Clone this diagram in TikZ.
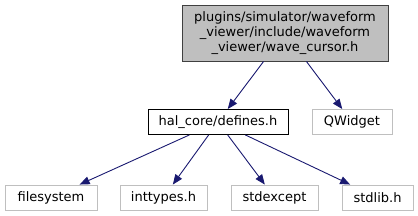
\documentclass[tikz,border=0pt]{standalone}
\usepackage{fontspec}
\setmainfont{DejaVu Sans}
\usetikzlibrary{arrows.meta}
\definecolor{edgeblue}{HTML}{191970}
\definecolor{boxgray}{HTML}{BFBFBF}
\definecolor{rootborder}{HTML}{404040}
\tikzset{
  base/.style={draw, line width=0.9pt, inner sep=0pt, minimum height=25pt,
    font=\fontsize{13}{15}\selectfont, anchor=center, text=black},
  rootbox/.style={base, fill=boxgray, draw=rootborder, align=center,
    minimum width=206pt, minimum height=56pt},
  docbox/.style={base, draw=black, fill=white},
  extbox/.style={base, draw=boxgray, fill=white},
  dep/.style={draw=edgeblue, line width=0.9pt, -{Triangle[length=10pt,width=8pt]}}
}
\begin{document}
\begin{tikzpicture}[x=1pt, y=-1pt]
  \useasboundingbox (0,0) rectangle (418,216);
  \node[rootbox] (root) at (285,33) {plugins/simulator/waveform\\\_viewer/include/waveform\\\_viewer/wave\_cursor.h};
  \node[docbox, minimum width=140pt] (defs) at (218,122) {hal\_core/defines.h};
  \node[extbox, minimum width=80pt] (qw) at (352,122) {QWidget};
  \node[extbox, minimum width=92pt] (fs) at (51,197.5) {filesystem};
  \node[extbox, minimum width=87pt] (it) at (163.5,197.5) {inttypes.h};
  \node[extbox, minimum width=87pt] (se) at (274.5,197.5) {stdexcept};
  \node[extbox, minimum width=71pt] (sl) at (377.5,197.5) {stdlib.h};
  \draw[dep] (root) -- (defs);
  \draw[dep] (root) -- (qw);
  \draw[dep] (defs) -- (fs);
  \draw[dep] (defs) -- (it);
  \draw[dep] (defs) -- (se);
  \draw[dep] (defs) -- (sl);
\end{tikzpicture}
\end{document}
